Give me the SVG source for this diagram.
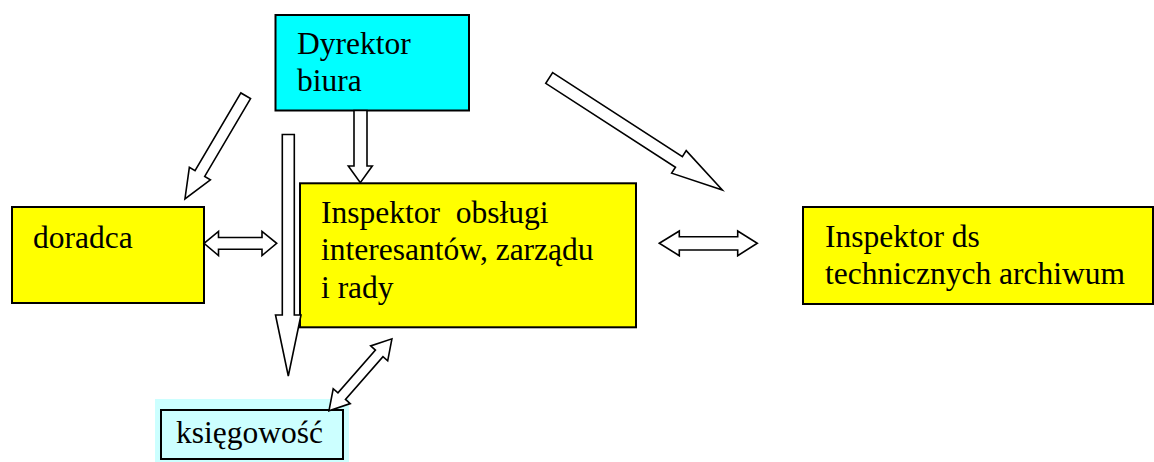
<svg xmlns="http://www.w3.org/2000/svg" width="1154" height="462" viewBox="0 0 1154 462">
<style>
.box{stroke:#000;stroke-width:2}
.y{fill:#FFFF00}
.c{fill:#00FFFF}
.lc{fill:#CCFFFF}
.t{font-family:"Liberation Serif","Times New Roman",serif;font-size:31.5px;fill:#000;white-space:pre}
.arr{fill:#fff;stroke:#000;stroke-width:1.6;stroke-linejoin:miter}
</style>
<rect width="1154" height="462" fill="#fff"/>
<g id="dyrektor">
<rect class="box c" x="275.5" y="15" width="193.5" height="95.5"/>
<text class="t" x="297" y="54">Dyrektor</text>
<text class="t" x="297" y="91">biura</text>
</g>
<g id="doradca">
<rect class="box y" x="12" y="207" width="192" height="96"/>
<text class="t" x="33" y="248">doradca</text>
</g>
<g id="inspektor-obslugi">
<rect class="box y" x="300" y="183.3" width="336" height="144"/>
<text class="t" x="321" y="222.7" xml:space="preserve">Inspektor  obsługi</text>
<text class="t" x="321" y="260">interesantów, zarządu</text>
<text class="t" x="321" y="298">i rady</text>
</g>
<g id="inspektor-ds">
<rect class="box y" x="803" y="207" width="350" height="97"/>
<text class="t" x="825" y="247">Inspektor ds</text>
<text class="t" x="825" y="284">technicznych archiwum</text>
</g>
<g id="ksiegowosc">
<rect class="lc" x="155" y="399" width="194" height="63"/>
<rect class="box lc" x="161" y="410" width="182" height="49"/>
<text class="t" x="176" y="443">księgowość</text>
</g>
<g id="connectors">
<polygon class="arr" transform="translate(245.7,95.8) rotate(120.5)" points="0,-5.6 90.3,-5.6 90.3,-12.2 119.7,0 90.3,12.2 90.3,5.6 0,5.6"/>
<polygon class="arr" points="354,110.5 367,110.5 367,166 372.3,166 360.3,182.7 348.3,166 354,166"/>
<polygon class="arr" points="282.3,134.5 294.3,134.5 294.3,315 301,315 288.3,376 275.5,315 282.3,315"/>
<polygon class="arr" transform="translate(549.2,78) rotate(32.9)" points="0,-6.35 154.5,-6.35 154.5,-13.4 206.2,0 154.5,13.4 154.5,6.35 0,6.35"/>
<polygon class="arr" points="204,243.3 218.5,231.5 218.5,237.5 262,237.5 262,231.5 276.7,243.3 262,255.5 262,249.3 218.5,249.3 218.5,255.5"/>
<polygon class="arr" points="659.3,243.3 679.3,231 679.3,236.7 737.7,236.7 737.7,231 757.3,243.3 737.7,255.7 737.7,250 679.3,250 679.3,255.7"/>
<polygon class="arr" transform="translate(329,410.7) rotate(-48.8)" points="0,0 19.3,-11.3 19.3,-5 76.2,-5 76.2,-11.3 95.5,0 76.2,11.3 76.2,5 19.3,5 19.3,11.3"/>
</g>
</svg>
